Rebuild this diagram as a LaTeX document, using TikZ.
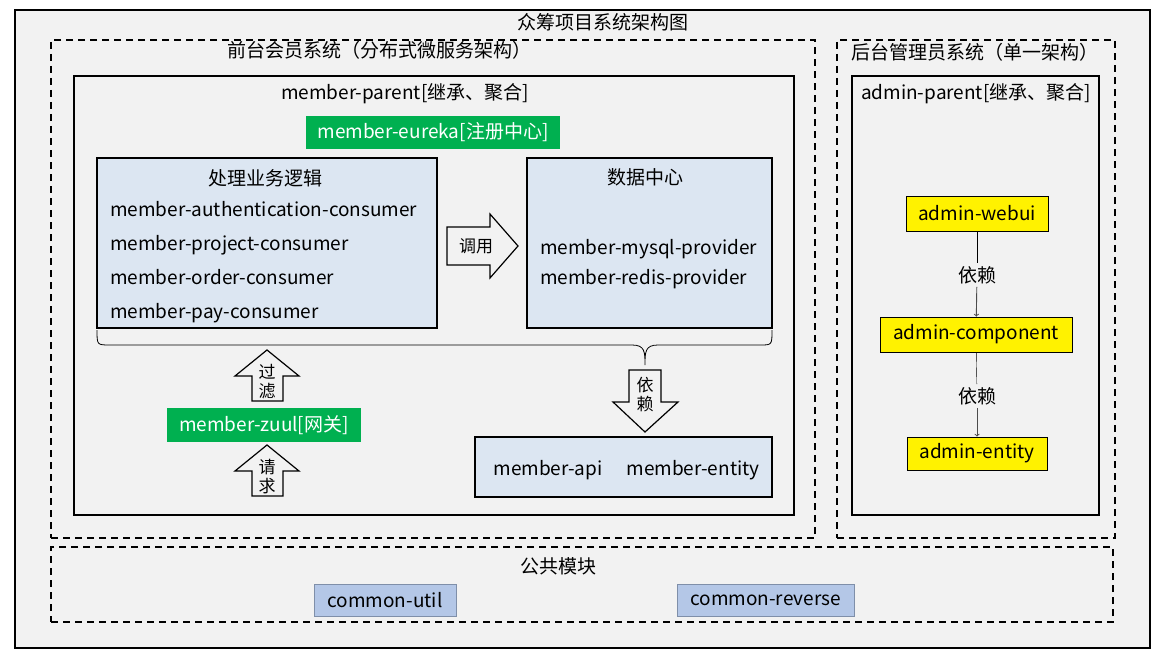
\documentclass[tikz,border=0pt]{standalone}
\usepackage{fontspec}
\setmainfont{Noto Sans CJK SC}
\usetikzlibrary{arrows,positioning}
\definecolor{bgGray}{HTML}{F2F2F2}
\definecolor{boxBlue}{HTML}{DCE6F2}
\definecolor{regGreen}{HTML}{00B050}
\definecolor{comBlue}{HTML}{B4C7E7}
\definecolor{comLine}{HTML}{7F8FA9}

\begin{document}
\begin{tikzpicture}[x=1pt,y=-1pt,font=\fontsize{19}{21}\selectfont,
  every node/.style={inner sep=0pt},
  frame/.style={draw,line width=2pt,fill=bgGray},
  dashbox/.style={draw,line width=1.6pt,dash pattern=on 7pt off 5pt},
  solidbox/.style={draw,line width=1.5pt},
  bluebox/.style={draw,line width=1.8pt,fill=boxBlue},
  greenbox/.style={fill=regGreen,text=white},
  yellowbox/.style={draw,line width=0.8pt,fill=yellow},
  combox/.style={draw=comLine,line width=0.8pt,fill=comBlue},
  blockarrow/.style={draw,line width=1.2pt,fill=bgGray,line join=miter},
  arrowtext/.style={font=\fontsize{17}{19}\selectfont,align=center},
  deparrow/.style={->,>=to,line width=0.9pt,gray!60!black}]
  \useasboundingbox (0,0) rectangle (1165,661);

  % outer frame and groups
  \node[frame,minimum width=1135pt,minimum height=638pt] (all) at (582.5,329) {};
  \node (title) at (603,22) {众筹项目系统架构图};
  \node[dashbox,minimum width=764pt,minimum height=498pt] (front) at (433,289) {};
  \node (frontlbl) at (379,50) {前台会员系统（分布式微服务架构）};
  \node[dashbox,minimum width=278pt,minimum height=498pt] (back) at (976,289) {};
  \node (backlbl) at (975,52) {后台管理员系统（单一架构）};
  \node[dashbox,minimum width=1062pt,minimum height=75pt] (common) at (582,584.5) {};
  \node (commonlbl) at (558,566) {公共模块};

  % member side
  \node[solidbox,minimum width=720pt,minimum height=439pt] (mparent) at (434,295.5) {};
  \node (mparentlbl) at (405,94) {member-parent[继承、聚合]};
  \node[greenbox,minimum width=254pt,minimum height=33pt] (eureka) at (433,132.5) {member-eureka[注册中心]};

  \node[bluebox,minimum width=340pt,minimum height=170pt] (logic) at (267,243) {};
  \node (logiclbl) at (265,178) {处理业务逻辑};
  \foreach \y/\txt in {210/authentication,244/project,278/order,312/pay}
    \node[anchor=base west] (c\txt) at (110,\y+6) {member-\txt-consumer};

  \node[bluebox,minimum width=245pt,minimum height=170pt] (data) at (649.5,243) {};
  \node (datalbl) at (645,177) {数据中心};
  \node[anchor=base west] (mysql) at (540,254) {member-mysql-provider};
  \node[anchor=base west] (redis) at (540,284) {member-redis-provider};

  \draw[blockarrow] (447,227) -- (490,227) -- (490,214) -- (518,246) -- (490,278) -- (490,265) -- (447,265) -- cycle;
  \node[arrowtext] (invoke) at (476,246) {调用};

  % brace under both boxes
  \draw[line width=0.8pt] (97,330) .. controls (97,345) .. (110,345) -- (632,345)
    .. controls (645,345) and (645,352) .. (645,365)
    .. controls (645,352) and (645,345) .. (658,345) -- (760,345)
    .. controls (772,345) .. (772,330);

  \draw[blockarrow] (629,370) -- (661,370) -- (661,402) -- (678,402) -- (645,432) -- (613,402) -- (629,402) -- cycle;
  \node[arrowtext] (depend) at (645,395) {依\\赖};

  \node[bluebox,minimum width=297pt,minimum height=60pt] (api) at (623.5,467) {};
  \node[anchor=base] (apilbl) at (548,475) {member-api};
  \node[anchor=base] (entitylbl) at (693,475) {member-entity};

  \node[greenbox,minimum width=194pt,minimum height=34pt] (zuul) at (264,425) {member-zuul[网关]};
  \foreach \t/\txt/\nm in {350/{过\\滤}/filter,445/{请\\求}/request}{
    \draw[blockarrow] (252,\t+51) -- (252,\t+26) -- (235,\t+26) -- (267,\t) -- (299,\t+26)
      -- (283,\t+26) -- (283,\t+51) -- cycle;
    \node[arrowtext] (\nm) at (267,\t+32) {\txt};
  }

  % admin side
  \node[solidbox,minimum width=247pt,minimum height=439pt] (aparent) at (975.5,295.5) {};
  \node (aparentlbl) at (976,94) {admin-parent[继承、聚合]};
  \node[yellowbox,minimum width=142pt,minimum height=35pt] (webui) at (977,213.5) {admin-webui};
  \node[yellowbox,minimum width=192pt,minimum height=35pt] (component) at (976,334.5) {admin-component};
  \node[yellowbox,minimum width=140pt,minimum height=33pt] (aentity) at (977,453.5) {admin-entity};
  \node[inner sep=3pt] (dep1) at (977,275) {依赖};
  \node[inner sep=3pt] (dep2) at (977,396) {依赖};
  \draw (webui) -- (dep1);
  \draw[deparrow] (dep1) -- (component);
  \draw (component) -- (dep2);
  \draw[deparrow] (dep2) -- (aentity);

  % common modules
  \node[combox,minimum width=142pt,minimum height=32pt] (util) at (385,600) {common-util};
  \node[combox,minimum width=177pt,minimum height=32pt] (reverse) at (765.5,600) {common-reverse};
\end{tikzpicture}
\end{document}
